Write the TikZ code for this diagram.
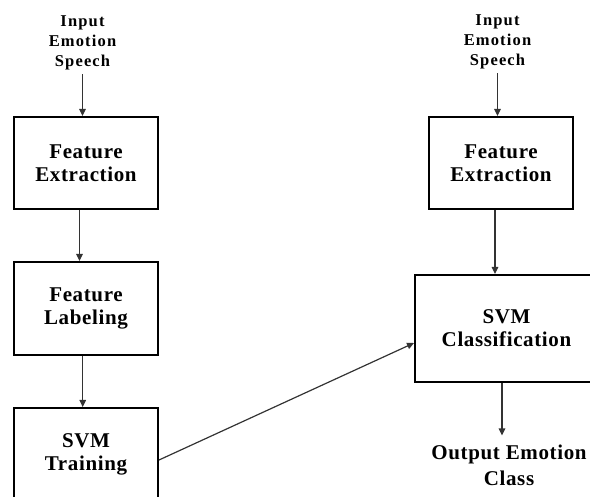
\documentclass[tikz,border=0pt]{standalone}
\usepackage{fontspec}
\setmainfont{Liberation Serif}
\newfontfamily\boxfont[LetterSpace=3]{Liberation Serif}
\newfontfamily\inputfont[LetterSpace=7]{Liberation Serif}
\usetikzlibrary{arrows.meta}
\begin{document}
\begin{tikzpicture}[x=1pt,y=-1pt,
  box/.style={draw=black,line width=2pt,fill=white,minimum width=144pt,align=center,inner sep=0pt,
    font=\boxfont\bfseries\fontsize{21}{23}\selectfont},
  intext/.style={align=center,inner sep=0pt,font=\inputfont\bfseries\fontsize{16.5}{20}\selectfont},
  outtext/.style={align=center,inner sep=0pt,font=\boxfont\bfseries\fontsize{21}{26}\selectfont},
  arr/.style={draw=black!80,line width=1.2pt,-{Triangle[length=7pt,width=6.5pt]}}]
\path[use as bounding box] (0,0) rectangle (590,497);
\clip (0,0) rectangle (590,497);
% left column
\node[intext] (in1) at (82.5,43) {Input\\Emotion\\Speech};
\node[box,minimum height=92pt] (fe1) at (86,163) {Feature\\Extraction};
\node[box,minimum height=93pt] (fl) at (86,308.5) {Feature\\Labeling};
\node[box,minimum height=92pt] (tr) at (86,454) {SVM\\Training};
% right column
\node[intext] (in2) at (497.5,42) {Input\\Emotion\\Speech};
\node[box,minimum height=92pt] (fe2) at (501,163) {Feature\\Extraction};
\node[box,minimum width=183pt,minimum height=107pt] (cl) at (506.5,328.5) {SVM\\Classification};
\node[outtext] (out) at (509,465) {Output Emotion\\Class};
% connectors
\draw[arr,shorten <=4pt] (in1.south) -- (fe1.north -| in1.south);
\draw[arr] ([xshift=-6.5pt]fe1.south) -- ([xshift=-6.5pt]fl.north);
\draw[arr] ([xshift=-3.3pt]fl.south) -- ([xshift=-3.3pt]tr.north);
\draw[arr,shorten <=4pt] (in2.south) -- (fe2.north -| in2.south);
\draw[arr] ([xshift=-6pt]fe2.south) -- ([xshift=-6pt]fe2.south |- cl.north);
\draw[arr,shorten >=9pt] ([xshift=-4.5pt]cl.south) -- ([xshift=-4.5pt]cl.south |- out.north);
\draw[arr] ([yshift=-6pt]tr.east) -- ([yshift=-14.5pt]cl.west);
\end{tikzpicture}
\end{document}
